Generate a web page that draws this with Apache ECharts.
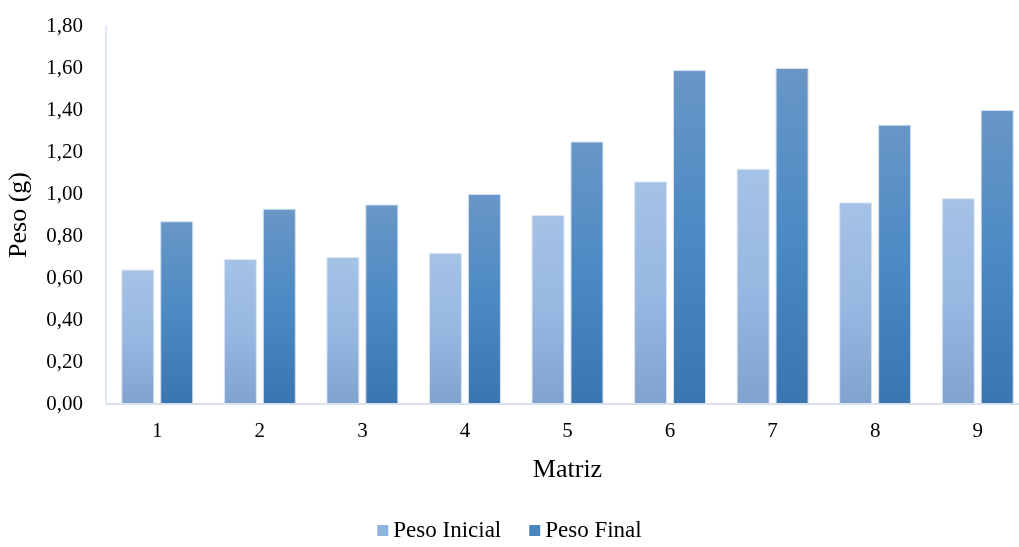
<!DOCTYPE html>
<html><head><meta charset="utf-8">
<script src="https://cdn.jsdelivr.net/npm/echarts@6/dist/echarts.min.js"></script>
<style>html,body{margin:0;padding:0;background:#fff}#c{width:1019px;height:547px}</style>
</head><body><div id="c"></div>
<script>
const categories = ['1','2','3','4','5','6','7','8','9'];
const pesoInicial = [0.64, 0.69, 0.70, 0.72, 0.90, 1.06, 1.12, 0.96, 0.98];
const pesoFinal = [0.87, 0.93, 0.95, 1.00, 1.25, 1.59, 1.60, 1.33, 1.40];
const seriesNames = ['Peso Inicial', 'Peso Final'];
const yTicks = {min: 0, max: 1.8, interval: 0.2};

const font = 'Liberation Serif';
function grad(top, mid, bottom) {
  return new echarts.graphic.LinearGradient(0, 0, 0, 1, [
    {offset: 0, color: top}, {offset: 0.5, color: mid}, {offset: 1, color: bottom}]);
}
const chart = echarts.init(document.getElementById('c'), null, {renderer: 'canvas'});
chart.setOption({
  animation: false,
  backgroundColor: '#fff',
  grid: {left: 106, width: 923, top: 26, height: 378, containLabel: false, outerBoundsMode: 'none'},
  legend: {
    bottom: 0, left: 'center', itemWidth: 11, itemHeight: 11, itemGap: 28, icon: 'rect',
    textStyle: {fontFamily: font, fontSize: 23, color: '#000'},
    data: [
      {name: seriesNames[0], itemStyle: {color: '#90b2de', borderWidth: 0}},
      {name: seriesNames[1], itemStyle: {color: '#4a85c0', borderWidth: 0}}
    ]
  },
  xAxis: {
    type: 'category', data: categories,
    name: 'Matriz', nameLocation: 'middle', nameGap: 53,
    nameTextStyle: {fontFamily: font, fontSize: 26, color: '#000'},
    axisLine: {lineStyle: {color: '#dbe1ea', width: 2}},
    axisTick: {show: false},
    axisLabel: {fontFamily: font, fontSize: 21, color: '#000', margin: 17}
  },
  yAxis: {
    type: 'value', min: yTicks.min, max: yTicks.max, interval: yTicks.interval,
    name: 'Peso (g)', nameLocation: 'middle', nameGap: 74,
    nameTextStyle: {fontFamily: font, fontSize: 26, color: '#000'},
    axisLine: {show: true, lineStyle: {color: '#d6e0f0', width: 1.5}},
    axisTick: {show: false},
    splitLine: {show: false},
    axisLabel: {fontFamily: font, fontSize: 21, color: '#000', margin: 23,
      formatter: v => v.toFixed(2).replace('.', ',')}
  },
  series: [
    {name: seriesNames[0], type: 'bar', data: pesoInicial, barWidth: 33, barGap: '18%',
     itemStyle: {color: grad('#a5c2e6', '#98b8e2', '#7fa2cf'), borderColor: '#dde7f4', borderWidth: 1}},
    {name: seriesNames[1], type: 'bar', data: pesoFinal, barWidth: 33,
     itemStyle: {color: grad('#6996c6', '#4b8ac4', '#3a75b0'), borderColor: '#d3e0f0', borderWidth: 1}}
  ]
});
</script></body></html>
